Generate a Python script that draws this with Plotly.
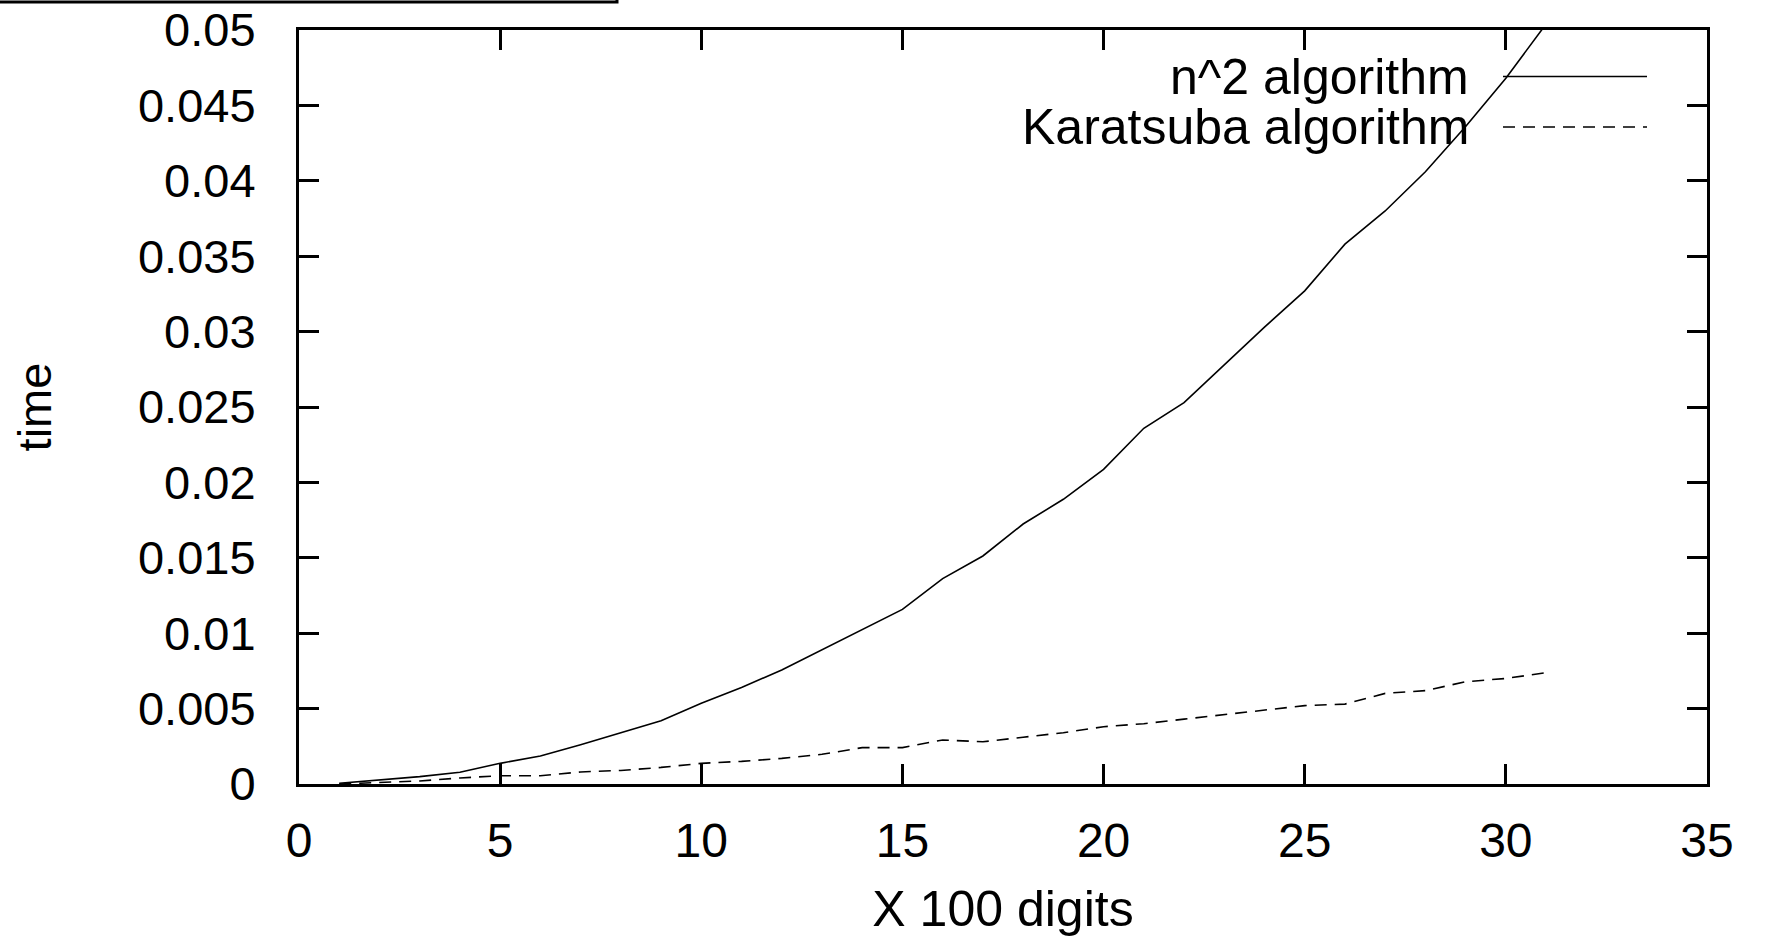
import plotly.graph_objects as go

# ---- data ----
digits_x100 = list(range(1, 32))
n2_time = [0.00005, 0.00027, 0.00049, 0.00078, 0.00137, 0.00186, 0.0026, 0.0034, 0.0042, 0.00535,
           0.0064, 0.00756, 0.0089, 0.0102, 0.01158, 0.01362, 0.01512, 0.01724, 0.01888, 0.02087,
           0.02359, 0.02529, 0.0278, 0.0303, 0.0327, 0.0358, 0.0380, 0.0406, 0.0436, 0.0468, 0.0504]
karatsuba_time = [0.0, 0.0001, 0.0002, 0.0004, 0.00055, 0.00055, 0.0008, 0.0009, 0.0011, 0.00137,
                  0.0015, 0.0017, 0.00197, 0.00241, 0.00241, 0.00292, 0.0028, 0.0031, 0.0034, 0.0038,
                  0.0040, 0.0043, 0.0046, 0.0049, 0.0052, 0.0053, 0.00601, 0.00619, 0.00678, 0.0070, 0.00738]
series_names = ["n^2 algorithm", "Karatsuba algorithm"]
x_ticks = [0, 5, 10, 15, 20, 25, 30, 35]
y_ticks = [0, 0.005, 0.01, 0.015, 0.02, 0.025, 0.03, 0.035, 0.04, 0.045, 0.05]

# ---- layout geometry (pixels) ----
W, H = 1765, 937
L, R, T, B = 299, 1707, 30, 784
FONT = "Liberation Sans, Arial, sans-serif"
FS = 48

def px(xp):
    return (xp - L) / (R - L)

def py(yp):
    return (B - yp) / (B - T)

fig = go.Figure()
fig.add_trace(go.Scatter(x=digits_x100, y=n2_time, mode="lines", name=series_names[0],
                         line=dict(color="black", width=1.6), showlegend=False))
fig.add_trace(go.Scatter(x=digits_x100, y=karatsuba_time, mode="lines", name=series_names[1],
                         line=dict(color="black", width=1.6, dash="12px,8px"), showlegend=False))

axis_common = dict(
    showline=True, linecolor="black", linewidth=3, mirror="ticks",
    ticks="inside", ticklen=20, tickwidth=2.5, tickcolor="black",
    showgrid=False, zeroline=False, automargin=False,
)
fig.update_xaxes(range=[0, 35], tickvals=x_ticks, ticklabelstandoff=12,
                 tickfont=dict(family=FONT, size=FS, color="black"),
                 title=dict(text="X 100 digits", font=dict(family=FONT, size=50, color="black"), standoff=40),
                 **axis_common)
fig.update_yaxes(range=[0, 0.05], tickvals=y_ticks, ticklabelstandoff=31,
                 tickfont=dict(family=FONT, size=47, color="black"),
                 title=dict(text="time", font=dict(family=FONT, size=47, color="black"), standoff=72),
                 **axis_common)

# manual gnuplot-style legend (text right-aligned, sample on right)
legend_rows = [(76.5, "solid"), (127, "12px,8px")]
shapes = []
annotations = []
for name, (yrow, dash) in zip(series_names, legend_rows):
    annotations.append(dict(xref="paper", yref="paper", x=px(1471), y=py(yrow), text=name,
                            showarrow=False, xanchor="right", yanchor="middle",
                            font=dict(family=FONT, size=50, color="black")))
    shapes.append(dict(type="line", xref="paper", yref="paper", x0=px(1503), x1=px(1647),
                       y0=py(yrow), y1=py(yrow), line=dict(color="black", width=1.6, dash=dash)))

# partial frame visible at the top-left corner of the page
shapes.append(dict(type="rect", xref="paper", yref="paper", x0=px(-20), x1=px(617),
                   y0=py(2), y1=py(-30), line=dict(color="black", width=3)))

fig.update_layout(
    width=W, height=H, autosize=False,
    margin=dict(l=L, r=W - R, t=T, b=H - B, pad=0, autoexpand=False),
    paper_bgcolor="white", plot_bgcolor="white",
    font=dict(family=FONT, size=FS, color="black"),
    shapes=shapes, annotations=annotations, showlegend=False,
)

fig.write_html("out.html", include_plotlyjs=True, config={"displayModeBar": False},
               post_script="document.body.style.margin='0';document.body.style.overflow='hidden';")
